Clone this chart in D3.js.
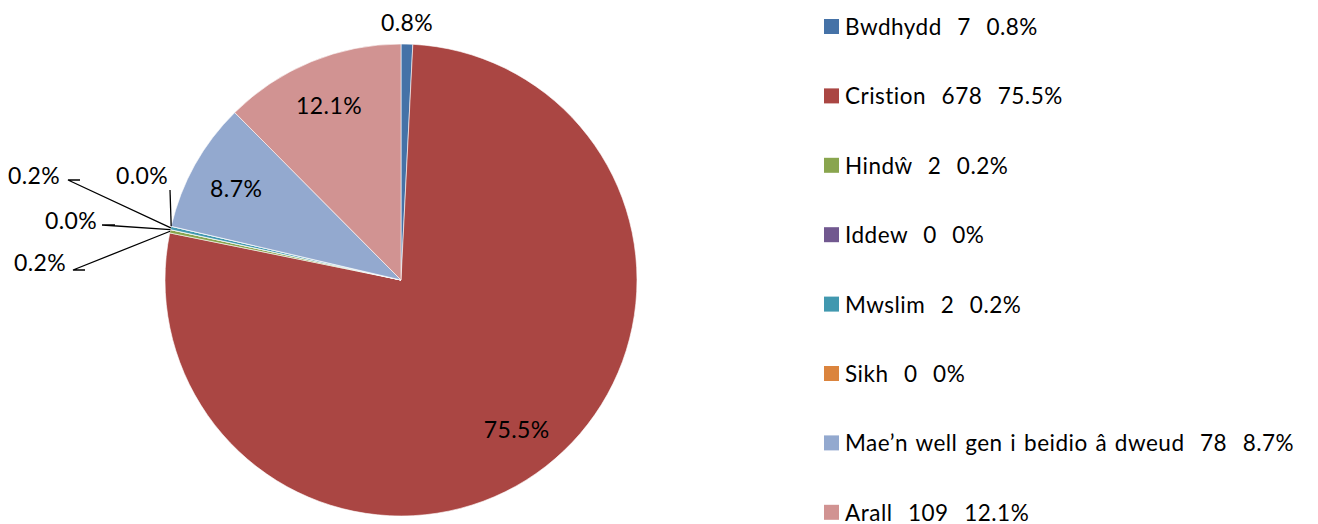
<!DOCTYPE html>
<html>
<head>
<meta charset="utf-8">
<script src="https://cdn.jsdelivr.net/npm/d3@7"></script>
<style>
  body { margin: 0; background: #fff; }
  text { font-family: Lato, "Open Sans", sans-serif; fill: #000; }
</style>
</head>
<body>
<div id="chart"></div>
<script>
const width = 1318;
const height = 524;

// data
const names = ["Bwdhydd", "Cristion", "Hindŵ", "Iddew", "Mwslim", "Sikh", "Mae’n well gen i beidio â dweud", "Arall"];
const counts = [7, 678, 2, 0, 2, 0, 78, 109];
const sliceLabels = ["0.8%", "75.5%", "0.2%", "0.0%", "0.2%", "0.0%", "8.7%", "12.1%"];
const legendPct = ["0.8%", "75.5%", "0.2%", "0%", "0.2%", "0%", "8.7%", "12.1%"];
const colors = ["#4572A7", "#AA4643", "#89A54E", "#71588F", "#4198AF", "#DB843D", "#93A9CF", "#D19392"];

const cx = 401, cy = 280, radius = 236;
const fontSize = 22.5;

// label placement: inside labels use a radius fraction, the crowded small
// slices get callouts placed to the left like the original
const callouts = {
  0: { dx: 6, dy: -258 },                                   // outside, no line
  2: { dx: -361, dy: -18, elbow: [[-316, -10], [-328, -10]] },
  3: { dx: -330, dy: -60, elbow: [[-286, -55], [-299, -55]] },
  4: { dx: -367, dy: -105, elbow: [[-321, -100], [-333, -100]] },
  5: { dx: -259, dy: -105, elbow: [[-231, -90]] }
};

const svg = d3.select("#chart").append("svg")
  .attr("width", width)
  .attr("height", height);

const pie = d3.pie().sort(null).value(d => d)(counts);
const arc = d3.arc().innerRadius(0).outerRadius(radius);
const labelArc = d3.arc().innerRadius(radius * 0.8).outerRadius(radius * 0.8);
const edgeArc = d3.arc().innerRadius(radius).outerRadius(radius);

const g = svg.append("g").attr("transform", `translate(${cx},${cy})`);

g.selectAll("path.slice")
  .data(pie)
  .enter()
  .append("path")
  .attr("class", "slice")
  .attr("d", arc)
  .attr("fill", (d, i) => colors[i])
  .attr("stroke", "#fff")
  .attr("stroke-width", 0.6);

// leader lines
pie.forEach((d, i) => {
  const c = callouts[i];
  if (!c || !c.elbow) return;
  const pts = c.elbow.concat([edgeArc.centroid(d)]);
  g.append("path")
    .attr("d", d3.line()(pts))
    .attr("fill", "none")
    .attr("stroke", "#000")
    .attr("stroke-width", 1.3);
});

// slice labels
g.selectAll("text.lbl")
  .data(pie)
  .enter()
  .append("text")
  .attr("class", "lbl")
  .attr("font-size", 23)
  .attr("letter-spacing", 0.4)
  .attr("text-anchor", "middle")
  .attr("dominant-baseline", "central")
  .attr("transform", (d, i) => {
    const c = callouts[i];
    const p = c ? [c.dx, c.dy] : labelArc.centroid(d);
    return `translate(${p[0]},${p[1]})`;
  })
  .text((d, i) => sliceLabels[i]);

// legend
const y = d3.scalePoint().domain(names).range([26.5, 512.3]);

const legend = svg.append("g");
const rows = legend.selectAll("g")
  .data(names)
  .enter()
  .append("g")
  .attr("transform", d => `translate(824,${y(d)})`);

rows.append("rect")
  .attr("x", 0)
  .attr("y", -7.5)
  .attr("width", 15)
  .attr("height", 15)
  .attr("fill", (d, i) => colors[i]);

rows.append("text")
  .attr("x", 21)
  .attr("font-size", fontSize)
  .attr("letter-spacing", 0.5)
  .attr("word-spacing", 1.5)
  .attr("dominant-baseline", "central")
  .attr("xml:space", "preserve")
  .style("white-space", "pre")
  .text((d, i) => `${d}  ${counts[i]}  ${legendPct[i]}`);
</script>
</body>
</html>
